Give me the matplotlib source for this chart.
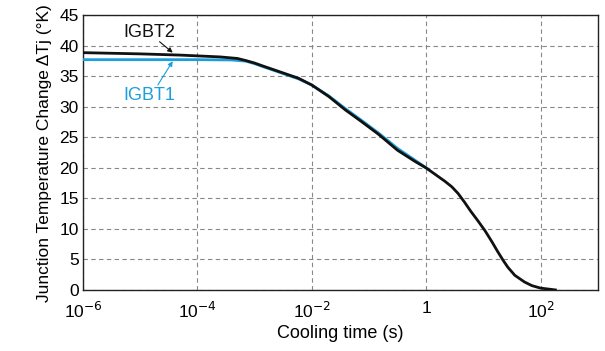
import numpy as np
import matplotlib
matplotlib.use("Agg")
import matplotlib.pyplot as plt

plt.rcParams["font.family"] = ["Liberation Sans", "DejaVu Sans"]

# log10 of cooling time (s) and junction temperature change (°K)
igbt2_logt = [-6.0, -5.0, -4.3, -3.6, -3.3, -3.15, -3.0, -2.85, -2.57, -2.23, -2.0, -1.7,
              -1.41, -1.13, -0.83, -0.5, -0.2, 0.0, 0.15, 0.33, 0.45, 0.56, 0.67, 0.78,
              0.9, 1.03, 1.15, 1.25, 1.35, 1.43, 1.55, 1.72, 1.85, 2.0, 2.26]
igbt2_dtj = [38.9, 38.7, 38.5, 38.2, 37.95, 37.6, 37.2, 36.7, 35.8, 34.7, 33.6, 31.7,
             29.5, 27.6, 25.5, 22.9, 21.1, 20.0, 19.0, 17.8, 16.9, 15.8, 14.4, 12.9,
             11.4, 9.7, 7.9, 6.3, 4.8, 3.7, 2.4, 1.3, 0.7, 0.3, 0.0]

igbt1_logt = [-6.0, -5.0, -4.0, -3.4, -3.15, -3.0, -2.85, -2.57, -2.23, -2.0, -1.7, -1.41,
              -1.13, -0.83, -0.5, -0.2, 0.05]
igbt1_dtj = [37.75, 37.75, 37.75, 37.7, 37.5, 37.1, 36.6, 35.7, 34.6, 33.6, 31.8, 29.7,
             27.8, 25.7, 23.2, 21.3, 19.7]

fig = plt.figure(figsize=(6.05, 3.51), dpi=100)
ax = fig.add_axes([0.137, 0.174, 0.851, 0.782])

ax.plot(10 ** np.array(igbt1_logt), igbt1_dtj, color="#1a9fdb", lw=2.0, zorder=3,
        solid_joinstyle="round")
ax.plot(10 ** np.array(igbt2_logt), igbt2_dtj, color="#111111", lw=2.0, zorder=4,
        solid_joinstyle="round")

ax.set_xscale("log")
ax.set_xlim(1e-6, 1e3)
ax.set_ylim(0, 45)
ax.set_yticks(range(0, 46, 5))
ax.set_xticks([1e-6, 1e-4, 1e-2, 1, 1e2])
ax.set_xticklabels(["10$^{-6}$", "10$^{-4}$", "10$^{-2}$", "1", "10$^{2}$"])
ax.xaxis.set_minor_locator(matplotlib.ticker.NullLocator())
ax.tick_params(length=0, labelsize=12.5)
ax.tick_params(axis="x", pad=8)
ax.tick_params(axis="y", pad=3)
ax.grid(True, ls=(0, (4, 3)), color="#888888", lw=0.8)
for s in ax.spines.values():
    s.set_color("#222222")
    s.set_linewidth(1.0)

ax.set_xlabel("Cooling time (s)", fontsize=13, labelpad=3)
ax.set_ylabel("Junction Temperature Change ΔTj (°K)", fontsize=12.5, labelpad=5)

ax.text(10 ** -5.3, 41.5, "IGBT2", fontsize=13, color="#111111")
ax.annotate("", xy=(10 ** -4.43, 38.9), xytext=(10 ** -4.66, 40.7),
            arrowprops=dict(arrowstyle="-|>", color="#111111", lw=0.8, mutation_scale=7,
                            shrinkA=0, shrinkB=0))
ax.text(10 ** -5.3, 31.1, "IGBT1", fontsize=13, color="#1a9fdb")
ax.annotate("", xy=(10 ** -4.43, 37.5), xytext=(10 ** -4.69, 33.6),
            arrowprops=dict(arrowstyle="-|>", color="#1a9fdb", lw=0.8, mutation_scale=7,
                            shrinkA=0, shrinkB=0))

fig.savefig("out.png", dpi=100)
